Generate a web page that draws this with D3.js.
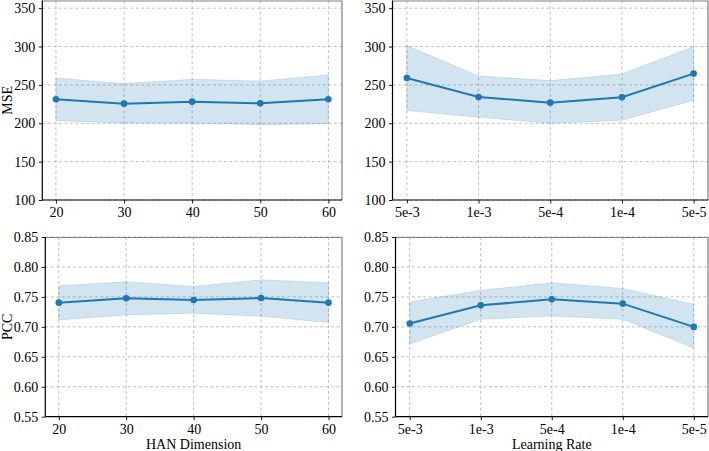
<!DOCTYPE html>
<html>
<head>
<meta charset="utf-8">
<script src="https://cdn.jsdelivr.net/npm/d3@7"></script>
<style>
  body { margin: 0; background: #fff; }
  svg { display: block; font-family: "Liberation Serif", "Times New Roman", serif; }
</style>
</head>
<body>
<div id="chart"></div>
<script>
// categories
const hanDims = ["20", "30", "40", "50", "60"];
const learningRates = ["5e-3", "1e-3", "5e-4", "1e-4", "5e-5"];

// MSE vs HAN dimension
const mseHanMean  = [231.3, 225.6, 228.2, 226.0, 231.3];
const mseHanUpper = [259.0, 251.7, 257.3, 255.1, 263.0];
const mseHanLower = [203.4, 200.4, 200.0, 198.2, 199.5];

// MSE vs learning rate
const mseLrMean  = [259.0, 234.3, 226.9, 233.9, 264.7];
const mseLrUpper = [301.2, 261.7, 255.6, 264.3, 299.9];
const mseLrLower = [216.5, 207.8, 200.0, 203.9, 230.0];

// PCC vs HAN dimension
const pccHanMean  = [0.7404, 0.7476, 0.7448, 0.7481, 0.7404];
const pccHanUpper = [0.7686, 0.7753, 0.7675, 0.7786, 0.7736];
const pccHanLower = [0.7116, 0.7199, 0.7227, 0.7177, 0.7071];

// PCC vs learning rate
const pccLrMean  = [0.7055, 0.7359, 0.7459, 0.7387, 0.6999];
const pccLrUpper = [0.7415, 0.7609, 0.7736, 0.7642, 0.7376];
const pccLrLower = [0.6712, 0.7127, 0.7182, 0.7127, 0.6645];

// tick labels
const mseTicks = [100, 150, 200, 250, 300, 350];
const pccTicks = [0.55, 0.60, 0.65, 0.70, 0.75, 0.80, 0.85];

const W = 709, H = 451;
const blue = "#1f77b4";
const fontSize = "14px";

const svg = d3.select("#chart").append("svg")
  .attr("width", W)
  .attr("height", H);

function drawPanel(p) {
  const innerW = p.right - p.left, innerH = p.bottom - p.top;
  const g = svg.append("g").attr("transform", "translate(" + p.left + "," + p.top + ")");

  // matplotlib-like 5% margin on the category axis
  const n = p.cats.length;
  const x = d3.scaleLinear().domain([-0.05 * (n - 1), (n - 1) * 1.05]).range([0, innerW]);
  const y = d3.scaleLinear().domain(p.yDomain).range([innerH, 0]);

  // grid
  g.append("g").selectAll("line").data(p.yTicks).join("line")
    .attr("x1", 0).attr("x2", innerW)
    .attr("y1", d => y(d)).attr("y2", d => y(d))
    .attr("stroke", "#b0b0b0").attr("stroke-width", 0.8)
    .attr("stroke-dasharray", "3,2.5");
  g.append("g").selectAll("line").data(p.cats).join("line")
    .attr("x1", (d, i) => x(i)).attr("x2", (d, i) => x(i))
    .attr("y1", 0).attr("y2", innerH)
    .attr("stroke", "#b0b0b0").attr("stroke-width", 0.8)
    .attr("stroke-dasharray", "3,2.5");

  // band
  const area = d3.area()
    .x((d, i) => x(i))
    .y0((d, i) => y(p.lower[i]))
    .y1((d, i) => y(p.upper[i]));
  g.append("path").datum(p.mean)
    .attr("d", area)
    .attr("fill", blue).attr("fill-opacity", 0.2)
    .attr("stroke", blue).attr("stroke-opacity", 0.2).attr("stroke-width", 0.8);

  // mean line
  const line = d3.line().x((d, i) => x(i)).y(d => y(d));
  g.append("path").datum(p.mean)
    .attr("d", line)
    .attr("fill", "none").attr("stroke", blue).attr("stroke-width", 2);
  g.append("g").selectAll("circle").data(p.mean).join("circle")
    .attr("cx", (d, i) => x(i)).attr("cy", d => y(d))
    .attr("r", 3.3).attr("fill", blue);

  // top/right spines (grey)
  g.append("path")
    .attr("d", "M0,0.5H" + innerW + "V" + innerH)
    .attr("fill", "none").attr("stroke", "#808080").attr("stroke-width", 1.2);

  // axes
  const xAxis = d3.axisBottom(x).tickValues(d3.range(n))
    .tickFormat(i => p.cats[i]).tickSize(3.5).tickPadding(3.5);
  const gx = g.append("g").attr("transform", "translate(0," + innerH + ")").call(xAxis);
  const yAxis = d3.axisLeft(y).tickValues(p.yTicks)
    .tickFormat(p.yFormat).tickSize(3.5).tickPadding(3.5);
  const gy = g.append("g").call(yAxis);
  [gx, gy].forEach(a => {
    a.attr("font-size", null).attr("font-family", null);
    a.select(".domain").attr("stroke", "#000").attr("stroke-width", 1.2);
    a.selectAll(".tick line").attr("stroke", "#000").attr("stroke-width", 0.9);
    a.selectAll(".tick text").attr("fill", "#000").style("font-size", fontSize);
  });
  gx.select(".domain").attr("d", "M0,0H" + innerW);
  gy.select(".domain").attr("d", "M0,0V" + innerH);

  if (p.yLabel) {
    svg.append("text")
      .attr("transform", "translate(" + p.yLabelX + "," + (p.top + innerH / 2) + ") rotate(-90)")
      .attr("text-anchor", "middle")
      .style("font-size", fontSize)
      .text(p.yLabel);
  }
  if (p.xLabel) {
    svg.append("text")
      .attr("x", p.left + innerW / 2)
      .attr("y", p.bottom + 32)
      .attr("text-anchor", "middle")
      .style("font-size", fontSize)
      .text(p.xLabel);
  }
}

const fmtInt = d3.format("d");
const fmtPcc = d3.format(".2f");

drawPanel({ left: 42.3, right: 342, top: 0.5, bottom: 200, cats: hanDims,
  mean: mseHanMean, upper: mseHanUpper, lower: mseHanLower,
  yDomain: [100, 360], yTicks: mseTicks, yFormat: fmtInt, yLabel: "MSE", yLabelX: 12 });
drawPanel({ left: 392.5, right: 708, top: 0.5, bottom: 200, cats: learningRates,
  mean: mseLrMean, upper: mseLrUpper, lower: mseLrLower,
  yDomain: [100, 360], yTicks: mseTicks, yFormat: fmtInt });
drawPanel({ left: 45.3, right: 342, top: 237, bottom: 416.7, cats: hanDims,
  mean: pccHanMean, upper: pccHanUpper, lower: pccHanLower,
  yDomain: [0.55, 0.85], yTicks: pccTicks, yFormat: fmtPcc, yLabel: "PCC", yLabelX: 12,
  xLabel: "HAN Dimension" });
drawPanel({ left: 395.5, right: 708, top: 237, bottom: 416.7, cats: learningRates,
  mean: pccLrMean, upper: pccLrUpper, lower: pccLrLower,
  yDomain: [0.55, 0.85], yTicks: pccTicks, yFormat: fmtPcc,
  xLabel: "Learning Rate" });
</script>
</body>
</html>
